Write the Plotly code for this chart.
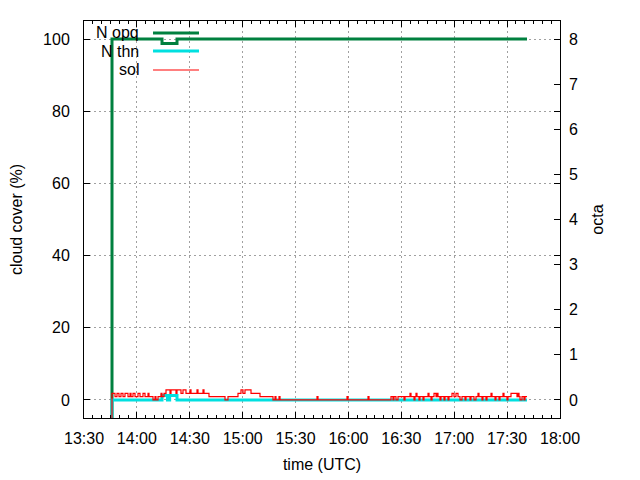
import plotly.graph_objects as go
import pandas as pd

DAY = "2024-01-01 "

# N opq (%), step data
opq_t = ["13:45:53", "13:45:53", "14:14:15", "14:22:45", "17:41:17"]
opq_v = [-10, 100, 98.8, 100, 100]

# N thn (%)
thn_t = ["13:45:53", "13:45:53", "14:14:15", "14:17:20", "14:18:35", "14:22:45", "17:41:17"]
thn_v = [-10, 0, 1.2, 0, 1.2, 0, 0]

# sol (%)
sol_t = ["13:45:53", "13:45:53", "13:47:35", "13:48:43", "13:49:51", "13:50:59", "13:52:07",
         "13:53:15", "13:54:57", "13:56:06", "13:56:40", "13:57:48", "13:58:56",
         "14:00:38", "14:01:46", "14:03:28", "14:04:36", "14:06:18", "14:06:52",
         "14:09:08", "14:10:16", "14:10:50", "14:11:59", "14:13:41", "14:14:15",
         "14:15:23", "14:16:31", "14:18:47", "14:19:21", "14:22:11", "14:22:45",
         "14:25:01", "14:26:09", "14:27:51", "14:30:08", "14:30:42", "14:34:06",
         "14:34:40", "14:37:30", "14:38:04", "14:40:54", "14:49:59", "14:51:41",
         "14:57:21", "14:59:03", "15:00:11", "15:01:19", "15:04:44", "15:09:50",
         "15:17:12", "15:18:20", "15:18:54", "15:20:37", "15:21:11", "15:42:10",
         "15:42:44", "15:59:11", "15:59:45", "16:11:06", "16:11:40", "16:24:08",
         "16:25:16", "16:25:50", "16:26:58", "16:28:07", "16:31:31", "16:32:05",
         "16:34:55", "16:35:29", "16:37:11", "16:37:45", "16:38:19", "16:38:53",
         "16:40:01", "16:40:35", "16:42:17", "16:42:51", "16:45:08", "16:45:42",
         "16:46:50", "16:47:24", "16:48:32", "16:49:40", "16:50:14", "16:50:48",
         "16:51:56", "16:52:30", "16:54:12", "16:54:46", "16:56:28", "16:57:02",
         "16:58:44", "16:59:52", "17:01:00", "17:02:09", "17:03:17", "17:04:25",
         "17:06:07", "17:06:41", "17:08:57", "17:09:31", "17:11:13", "17:12:21",
         "17:13:29", "17:14:03", "17:15:45", "17:16:19", "17:18:02", "17:18:36",
         "17:20:52", "17:21:26", "17:23:08", "17:23:42", "17:25:24", "17:25:58",
         "17:27:40", "17:28:14", "17:29:56", "17:30:30", "17:32:12", "17:35:37",
         "17:36:11", "17:36:45", "17:37:19", "17:38:27", "17:39:35", "17:40:09",
         "17:41:17"]
sol_v = [-10, 1.85, 0.95, 1.85, 0.95, 1.85, 0.95,
         1.85, 0.95, 1.85, 0.95, 1.85, 0.95,
         1.85, 0.95, 1.85, 0.95, 1.85, 0.95,
         0, 0.95, 0, 0.95, 1.85, 0.95,
         1.85, 2.8, 1.85, 2.8, 1.85, 2.8,
         1.85, 2.8, 1.85, 2.8, 1.85, 2.8,
         1.85, 2.8, 1.85, 0.95, 0, 0.95,
         1.85, 2.8, 1.85, 2.8, 1.85, 0.95,
         0, 0.95, 0, 0.95, 0, 0.95,
         0, 0.95, 0, 0.95, 0, 0.95,
         0, 0.95, 0, 0.95, 0, 0.95,
         1.85, 0.95, 0, 0.95, 1.85, 0.95,
         0, 0.95, 0, 0.95, 1.85, 0.95,
         0, 0.95, 1.85, 0.95, 1.85, 0.95,
         0, 0.95, 0, 0.95, 0, 0.95,
         1.85, 0.95, 1.85, 0.95, 0, 0.95,
         0, 0.95, 0, 0.95, 0, 0.95,
         1.85, 0.95, 0, 0.95, 0, 0.95,
         1.85, 0.95, 0, 0.95, 0, 0.95,
         1.85, 0.95, 0, 0.95, 1.85, 0.95,
         1.85, 0.95, 0, 0.95, 0, 0.95,
         0.95]

x_range = ["13:30", "18:00"]
y_ticks = [0, 20, 40, 60, 80, 100]
octa_ticks = [0, 1, 2, 3, 4, 5, 6, 7, 8]

GREEN = "#00803f"
CYAN = "#00e0e0"
RED = "#ff0000"
FONT = "Liberation Sans"
FS = 16
GRID = "#a0a0a0"
GRIDDASH = "2px,3px"


def ts(lst):
    return pd.to_datetime([DAY + t for t in lst])


fig = go.Figure()
fig.add_trace(go.Scatter(x=ts(opq_t), y=opq_v, mode="lines", line=dict(color=GREEN, width=3, shape="hv"),
                         name="N opq", showlegend=False))
fig.add_trace(go.Scatter(x=ts(thn_t), y=thn_v, mode="lines", line=dict(color=CYAN, width=3, shape="hv"),
                         name="N thn", showlegend=False))
fig.add_trace(go.Scatter(x=ts(sol_t), y=sol_v, mode="lines", line=dict(color=RED, width=1.2, shape="hv"),
                         name="sol", showlegend=False))
# invisible trace to carry the octa axis
fig.add_trace(go.Scatter(x=ts(opq_t), y=[v / 12.5 for v in opq_v], yaxis="y2", mode="lines",
                         line=dict(color="rgba(0,0,0,0)", width=0), hoverinfo="skip", showlegend=False))

# manual gnuplot-style key
legend_items = [("N opq", GREEN, 3), ("N thn", CYAN, 3), ("sol", RED, 1.2)]
key_y = [0.9698, 0.9244, 0.8766]
for (label, col, w), ky in zip(legend_items, key_y):
    fig.add_annotation(xref="paper", yref="paper", x=0.1197, y=ky, text=label, showarrow=False,
                       xanchor="right", yanchor="middle", font=dict(family=FONT, size=FS, color="black"))
    fig.add_shape(type="line", xref="paper", yref="paper", x0=0.145, x1=0.2416, y0=ky, y1=ky,
                  line=dict(color=col, width=w))

axis_common = dict(
    ticks="inside", tickcolor="black", ticklen=6, showline=True, linecolor="black", linewidth=1,
    tickfont=dict(family=FONT, size=FS, color="black"), zeroline=False, automargin=False,
)

fig.update_layout(
    width=640, height=480,
    margin=dict(l=84, r=80, t=21, b=62),
    paper_bgcolor="white", plot_bgcolor="white",
    font=dict(family=FONT, size=FS, color="black"),
    xaxis=dict(
        type="date", range=ts(x_range), tickformat="%H:%M", dtick=1800000, tick0=ts(x_range)[0],
        mirror="ticks", showgrid=True, gridcolor=GRID, griddash=GRIDDASH, gridwidth=1,
        minor=dict(dtick=300000, ticks="inside", ticklen=3, tickcolor="black", showgrid=False),
        title=dict(text="time (UTC)", font=dict(family=FONT, size=FS, color="black"), standoff=12),
        ticklabelstandoff=6,
        **axis_common,
    ),
    yaxis=dict(
        range=[-5, 105], tickvals=y_ticks, mirror="ticks", showgrid=True, gridcolor=GRID,
        griddash=GRIDDASH, gridwidth=1,
        title=dict(text="cloud cover (%)", font=dict(family=FONT, size=FS, color="black"), standoff=16),
        ticklabelstandoff=10,
        **axis_common,
    ),
    yaxis2=dict(
        overlaying="y", side="right", range=[-0.4, 8.4], tickvals=octa_ticks, showgrid=False,
        ticks="inside", tickcolor="black", ticklen=6, showline=False, zeroline=False, automargin=False,
        tickfont=dict(family=FONT, size=FS, color="black"),
        title=dict(text="octa", font=dict(family=FONT, size=FS, color="black"), standoff=14),
        ticklabelstandoff=8,
    ),
)

fig.write_html("out.html", config={"displayModeBar": False},
               post_script="document.body.style.margin='0px';document.body.style.overflow='hidden';")
